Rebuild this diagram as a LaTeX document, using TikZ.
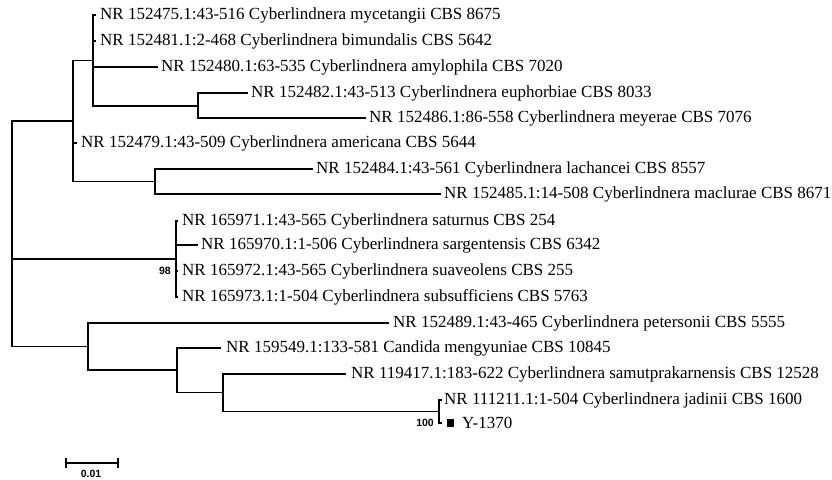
\documentclass[tikz,border=0pt]{standalone}
\usepackage{fontspec}
\setmainfont{Liberation Serif}
\newfontfamily\lblfont{Liberation Sans}
\begin{document}
\begin{tikzpicture}[x=1pt,y=-1pt,
  branch/.style={line width=1.8pt, line cap=rect},
  leaf/.style={anchor=west, inner sep=0pt, font=\fontsize{17}{20}\selectfont},
  boot/.style={inner sep=0pt, font=\lblfont\bfseries\fontsize{10.5}{12}\selectfont}]
\useasboundingbox (0,0) rectangle (832,479);
% internal nodes
\coordinate (r) at (12,234);
\coordinate (n1) at (73,121);
\coordinate (nA) at (93,60.5);
\coordinate (nEM) at (198,106);
\coordinate (nB) at (155,181.5);
\coordinate (nS) at (176,259);
\coordinate (nD) at (88,346.5);
\coordinate (nD2) at (177,370);
\coordinate (nD3) at (223,392.5);
\coordinate (nJ) at (439,411.5);
% tips
\coordinate (t1) at (95,15);
\coordinate (t2) at (95,41);
\coordinate (t3) at (157,67);
\coordinate (t4) at (247,93);
\coordinate (t5) at (365,118);
\coordinate (t6) at (76,143);
\coordinate (t7) at (312,169);
\coordinate (t8) at (440,194);
\coordinate (t9) at (177,221);
\coordinate (t10) at (197,245);
\coordinate (t11) at (177,271);
\coordinate (t12) at (177,297);
\coordinate (t13) at (388,323);
\coordinate (t14) at (220,348);
\coordinate (t15) at (345,374);
\coordinate (t16) at (441,400);
\coordinate (t17) at (441,423);
% labels
\node[leaf] (L1) at ([xshift=5]t1) {NR 152475.1:43-516 Cyberlindnera mycetangii CBS 8675};
\node[leaf] (L2) at ([xshift=5]t2) {NR 152481.1:2-468 Cyberlindnera bimundalis CBS 5642};
\node[leaf] (L3) at ([xshift=4]t3) {NR 152480.1:63-535 Cyberlindnera amylophila CBS 7020};
\node[leaf] (L4) at ([xshift=4]t4) {NR 152482.1:43-513 Cyberlindnera euphorbiae CBS 8033};
\node[leaf] (L5) at ([xshift=4]t5) {NR 152486.1:86-558 Cyberlindnera meyerae CBS 7076};
\node[leaf] (L6) at ([xshift=5]t6) {NR 152479.1:43-509 Cyberlindnera americana CBS 5644};
\node[leaf] (L7) at ([xshift=4]t7) {NR 152484.1:43-561 Cyberlindnera lachancei CBS 8557};
\node[leaf] (L8) at ([xshift=4]t8) {NR 152485.1:14-508 Cyberlindnera maclurae CBS 8671};
\node[leaf] (L9) at ([xshift=5]t9) {NR 165971.1:43-565 Cyberlindnera saturnus CBS 254};
\node[leaf] (L10) at ([xshift=4]t10) {NR 165970.1:1-506 Cyberlindnera sargentensis CBS 6342};
\node[leaf] (L11) at ([xshift=5]t11) {NR 165972.1:43-565 Cyberlindnera suaveolens CBS 255};
\node[leaf] (L12) at ([xshift=5]t12) {NR 165973.1:1-504 Cyberlindnera subsufficiens CBS 5763};
\node[leaf] (L13) at ([xshift=5]t13) {NR 152489.1:43-465 Cyberlindnera petersonii CBS 5555};
\node[leaf] (L14) at ([xshift=6]t14) {NR 159549.1:133-581 Candida mengyuniae CBS 10845};
\node[leaf] (L15) at ([xshift=6]t15) {NR 119417.1:183-622 Cyberlindnera samutprakarnensis CBS 12528};
\node[leaf] (L16) at ([xshift=3]t16) {NR 111211.1:1-504 Cyberlindnera jadinii CBS 1600};
\node[fill=black, inner sep=0pt, minimum size=7.5pt] (sq) at ([xshift=9.5]t17) {};
\node[leaf] (L17) at ([xshift=21]t17) {Y-1370};
% bootstrap
\node[boot, anchor=east] (b98) at (171,271) {98};
\node[boot, anchor=east] (b100) at (434,423) {100};
% branches
\draw[branch] (r) |- (n1);
\draw[branch] (r) |- (nS);
\draw[branch] (r) |- (nD);
\draw[branch] (n1) |- (nA);
\draw[branch] (n1) |- (t6);
\draw[branch] (n1) |- (nB);
\draw[branch] (nA) |- (t1);
\draw[branch] (nA) |- (t2);
\draw[branch] (nA) |- (t3);
\draw[branch] (nA) |- (nEM);
\draw[branch] (nEM) |- (t4);
\draw[branch] (nEM) |- (t5);
\draw[branch] (nB) |- (t7);
\draw[branch] (nB) |- (t8);
\draw[branch] (nS) |- (t9);
\draw[branch] (nS) |- (t10);
\draw[branch] (nS) |- (t11);
\draw[branch] (nS) |- (t12);
\draw[branch] (nD) |- (t13);
\draw[branch] (nD) |- (nD2);
\draw[branch] (nD2) |- (t14);
\draw[branch] (nD2) |- (nD3);
\draw[branch] (nD3) |- (t15);
\draw[branch] (nD3) |- (nJ);
\draw[branch] (nJ) |- (t16);
\draw[branch] (nJ) |- (t17);
% scale bar
\coordinate (s1) at (66,463);
\coordinate (s2) at (118,463);
\draw[branch] (s1) -- (s2);
\draw[branch] ([yshift=-4]s1) -- ([yshift=4]s1);
\draw[branch] ([yshift=-4]s2) -- ([yshift=4]s2);
\node[boot] (sc) at (91,474) {0.01};
\end{tikzpicture}
\end{document}
